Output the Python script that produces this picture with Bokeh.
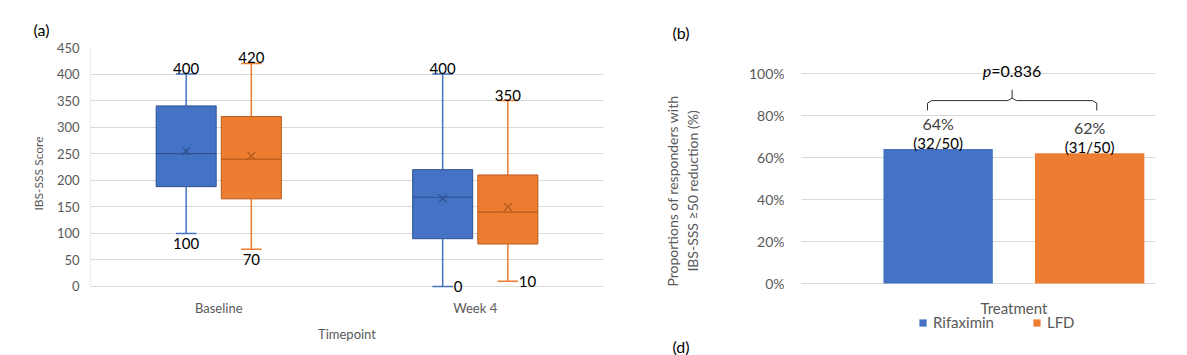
from bokeh.plotting import figure
from bokeh.models import (FactorRange, Range1d, FixedTicker, NumeralTickFormatter,
                          Legend, LegendItem, ColumnDataSource, Title)
from bokeh.transform import dodge
from bokeh.layouts import row
from bokeh.core.properties import value
from bokeh.embed import file_html
from bokeh.resources import INLINE

# ---------------- data ----------------
timepoints = ["Baseline", "Week 4"]
groups = ["Rifaximin", "LFD"]

rif_min = [100, 0]
rif_q1 = [188, 90]
rif_med = [250, 168]
rif_q3 = [340, 220]
rif_max = [400, 400]
rif_mean = [255, 166]

lfd_min = [70, 10]
lfd_q1 = [165, 80]
lfd_med = [240, 140]
lfd_q3 = [320, 210]
lfd_max = [420, 350]
lfd_mean = [246, 150]

responders = [32, 31]
totals = [50, 50]
resp_pct = [0.64, 0.62]
p_value = "0.836"

# ---------------- style ----------------
FONT = "Lato"
BLUE, BLUE_D = "#4472C4", "#2F528F"
ORANGE, ORANGE_D = "#ED7D31", "#B85A1B"
GRID = "#D9D9D9"
TXT = "#595959"


def style_axis(ax):
    ax.major_tick_line_color = None
    ax.minor_tick_line_color = None
    ax.major_tick_out = 0
    ax.major_tick_in = 0
    ax.minor_tick_out = 0
    ax.minor_tick_in = 0
    ax.axis_label_text_font_style = "normal"
    ax.axis_label_text_color = TXT
    ax.major_label_text_color = TXT
    ax.major_label_text_font = FONT
    ax.axis_label_text_font = FONT


# ---------------- panel (a) ----------------
pa = figure(x_range=FactorRange(*timepoints), y_range=Range1d(-24.5, 450),
            frame_width=513, frame_height=252,
            min_border_left=90, min_border_right=37, min_border_top=47, min_border_bottom=55,
            output_backend="svg", toolbar_location=None)
pa.outline_line_color = None
pa.xgrid.grid_line_color = None
pa.ygrid.grid_line_color = GRID
style_axis(pa.yaxis[0])
style_axis(pa.xaxis[0])
pa.yaxis.ticker = FixedTicker(ticks=list(range(0, 451, 50)))
pa.yaxis.axis_line_color = None
pa.yaxis.major_label_text_font_size = "13px"
pa.yaxis.major_label_standoff = 11
pa.yaxis.axis_label = "IBS-SSS Score"
pa.yaxis.axis_label_text_font_size = "12px"
pa.yaxis.axis_label_standoff = 8
pa.xaxis.axis_line_color = None
pa.xaxis.major_label_text_font_size = "13px"
pa.xaxis.major_label_standoff = 0
pa.xaxis.axis_label = "Timepoint"
pa.xaxis.axis_label_text_font_size = "13px"
pa.xaxis.axis_label_standoff = 7
pa.title.text = "(a)"
pa.title.align = "left"
pa.title.offset = -57
pa.title.standoff = 18
pa.title.text_font = FONT
pa.title.text_font_size = "16px"
pa.title.text_font_style = "normal"
pa.title.text_color = "#000000"

# light vertical edge of the plot area (value axis line)
pa.segment(x0=[0], x1=[0], y0=[0], y1=[450], line_color=GRID, line_width=1)

OFF = 0.127
BW = 0.234
CAP = 0.08
series = [
    (rif_min, rif_q1, rif_med, rif_q3, rif_max, rif_mean, BLUE, BLUE_D, -OFF),
    (lfd_min, lfd_q1, lfd_med, lfd_q3, lfd_max, lfd_mean, ORANGE, ORANGE_D, OFF),
]
for mins, q1s, meds, q3s, maxs, means, col, dark, off in series:
    src = ColumnDataSource(dict(tp=timepoints, mn=mins, q1=q1s, med=meds, q3=q3s,
                                mx=maxs, mean=means, mx_txt=[str(v) for v in maxs]))
    xc = dodge("tp", off, range=pa.x_range)
    xl = dodge("tp", off - BW / 2, range=pa.x_range)
    xr = dodge("tp", off + BW / 2, range=pa.x_range)
    cl = dodge("tp", off - CAP / 2, range=pa.x_range)
    cr = dodge("tp", off + CAP / 2, range=pa.x_range)
    pa.segment(x0=xc, x1=xc, y0="q3", y1="mx", source=src, line_color=col, line_width=1.5)
    pa.segment(x0=xc, x1=xc, y0="q1", y1="mn", source=src, line_color=col, line_width=1.5)
    pa.segment(x0=cl, x1=cr, y0="mx", y1="mx", source=src, line_color=col, line_width=1.5)
    pa.segment(x0=cl, x1=cr, y0="mn", y1="mn", source=src, line_color=col, line_width=1.5)
    pa.vbar(x=xc, width=BW, top="q3", bottom="q1", source=src,
            fill_color=col, line_color=dark, line_width=1)
    pa.segment(x0=xl, x1=xr, y0="med", y1="med", source=src, line_color=dark, line_width=1.2)
    pa.scatter(x=xc, y="mean", source=src, marker="x", size=11, line_color=dark, line_width=1.3)

    pa.text(x=xc, y="mx", text="mx_txt", source=src, text_align="center",
            text_baseline="bottom", y_offset=0, text_font=value(FONT),
            text_font_size="15px", text_color="#000000")
    below = [i for i, v in enumerate(mins) if v >= 50]
    right = [i for i, v in enumerate(mins) if v < 50]
    sb = ColumnDataSource(dict(tp=[timepoints[i] for i in below], mn=[mins[i] for i in below],
                               t=[str(mins[i]) for i in below]))
    sr = ColumnDataSource(dict(tp=[timepoints[i] for i in right], mn=[mins[i] for i in right],
                               t=[str(mins[i]) for i in right]))
    pa.text(x=xc, y="mn", text="t", source=sb, text_align="center",
            text_baseline="top", y_offset=5, text_font=value(FONT),
            text_font_size="15px", text_color="#000000")
    pa.text(x=xc, y="mn", text="t", source=sr, text_align="left",
            text_baseline="middle", x_offset=11, text_font=value(FONT),
            text_font_size="15px", text_color="#000000")

# ---------------- panel (b) ----------------
CAT = 0.6
BOFF = 0.214
BARW = 0.309
pb = figure(x_range=Range1d(0, 1), y_range=Range1d(-0.2429, 1.1238),
            frame_width=354, frame_height=287,
            min_border_left=161, min_border_right=30, min_border_top=47, min_border_bottom=0,
            output_backend="svg", toolbar_location=None)
pb.outline_line_color = None
pb.xgrid.grid_line_color = None
pb.ygrid.grid_line_color = GRID
style_axis(pb.yaxis[0])
pb.yaxis.ticker = FixedTicker(ticks=[0, 0.2, 0.4, 0.6, 0.8, 1.0])
pb.yaxis.formatter = NumeralTickFormatter(format="0%")
pb.yaxis.axis_line_color = None
pb.yaxis.major_label_text_font_size = "14px"
pb.yaxis.major_label_standoff = 17
pb.yaxis.axis_label = "Proportions of responders with\nIBS-SSS \u226550 reduction (%)"
pb.yaxis.axis_label_text_font_size = "14px"
pb.yaxis.axis_label_standoff = 45
pb.xaxis.visible = False
pb.title.text = "(b)"
pb.title.align = "left"
pb.title.offset = -129
pb.title.standoff = 12
pb.title.text_font = FONT
pb.title.text_font_size = "16px"
pb.title.text_font_style = "normal"
pb.title.text_color = "#000000"

bar_x = [CAT - BOFF, CAT + BOFF]
bsrc = ColumnDataSource(dict(x=bar_x, pct=resp_pct, g=groups, col=[BLUE, ORANGE],
                             ptxt=[f"{round(v * 100)}%" for v in resp_pct],
                             ntxt=[f"({n}/{t})" for n, t in zip(responders, totals)]))
bars = pb.vbar(x="x", top="pct", bottom=0, width=BARW, source=bsrc,
               fill_color="col", line_color=None)
pb.text(x="x", y="pct", text="ntxt", source=bsrc, text_align="center",
        text_baseline="middle", y_offset=-6, text_font=value(FONT),
        text_font_size="15px", text_color="#000000")
pb.text(x="x", y="pct", text="ptxt", source=bsrc, text_align="center",
        text_baseline="middle", y_offset=-26, text_font=value(FONT),
        text_font_size="16px", text_color="#404040")

# category label under the bars
pb.text(x=[CAT], y=[0], text=["Treatment"], text_align="center", text_baseline="middle",
        y_offset=25, text_font=value(FONT), text_font_size="15px", text_color=TXT)

# bracket
xl_b = bar_x[0] - 0.03
xr_b = bar_x[1] + 0.02
xc_b = (xl_b + xr_b) / 2
yh, ye, yn, r = 0.871, 0.824, 0.922, 0.012
pb.line(x=[xl_b, xl_b, xl_b + r, xc_b - r, xc_b, xc_b],
        y=[ye, yh - r, yh, yh, yh + r, yn], line_color="#303030", line_width=1)
pb.line(x=[xr_b, xr_b, xr_b - r, xc_b + r, xc_b],
        y=[ye, yh - r, yh, yh, yh + r], line_color="#303030", line_width=1)

# p-value
pb.text(x=[xc_b], y=[1.0], text=["p"], x_offset=-21, y_offset=-3, text_font=value(FONT),
        text_font_size="16px", text_font_style="italic", text_color="#000000",
        text_align="right", text_baseline="middle")
pb.text(x=[xc_b], y=[1.0], text=["=" + p_value], x_offset=-21, y_offset=-3,
        text_font=value(FONT), text_font_size="16px", text_color="#000000",
        text_align="left", text_baseline="middle")

legend = Legend(items=[LegendItem(label=g, renderers=[bars], index=i) for i, g in enumerate(groups)],
                orientation="horizontal", location=(117, 3))
legend.label_text_font = FONT
legend.label_text_font_size = "15px"
legend.label_text_color = TXT
legend.glyph_width = 9
legend.glyph_height = 9
legend.label_standoff = 6
legend.spacing = 38
legend.padding = 0
legend.margin = 0
legend.border_line_color = None
legend.background_fill_alpha = 0
legend.label_height = 14
pb.add_layout(legend)

pb.add_layout(Title(text="(d)", align="left", offset=-129, standoff=0, text_font=FONT,
                    text_font_size="16px", text_font_style="normal", text_color="#000000"),
              "below")

layout = row(pa, pb)
open("out.html", "w").write(file_html(layout, INLINE))
